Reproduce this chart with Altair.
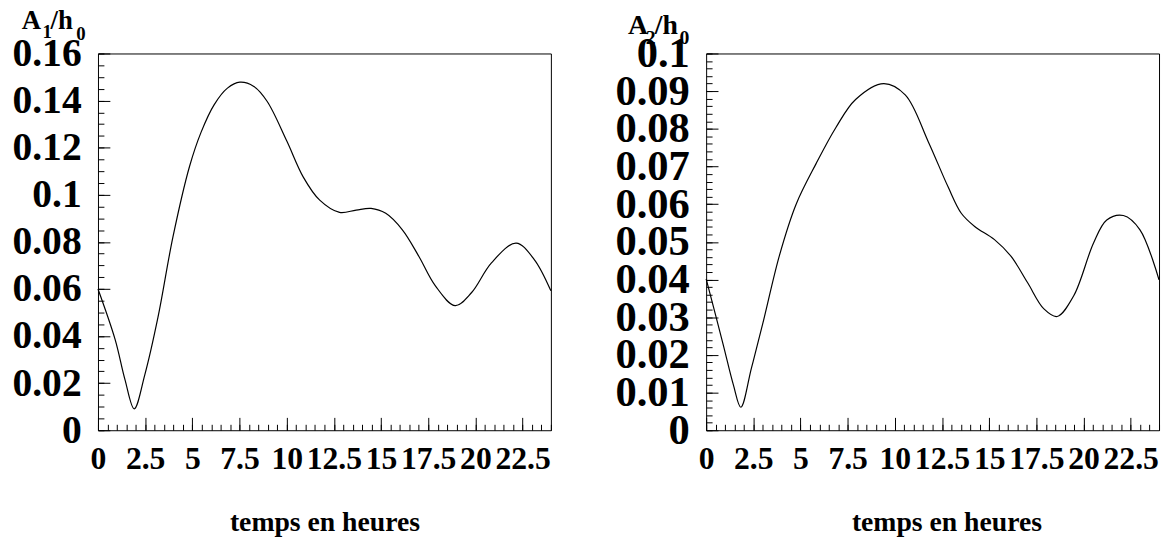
import altair as alt
import pandas as pd

# ---- data ----
t1 = [0.0, 0.91, 1.43, 1.92, 2.48, 3.18, 3.97, 4.85, 5.46, 6.16, 6.86, 7.52, 8.26, 8.96,
      10.0, 10.88, 11.75, 12.8, 13.68, 14.47, 15.25, 16.13, 17.0, 17.88, 18.93, 19.8,
      20.85, 22.16, 23.12, 24.0]
a1 = [0.0600, 0.0385, 0.0215, 0.0091, 0.0235, 0.0480, 0.0820, 0.1120, 0.1265, 0.1383,
      0.1453, 0.1478, 0.1460, 0.1397, 0.1229, 0.1075, 0.0977, 0.0925, 0.0935, 0.0942,
      0.0921, 0.0851, 0.0739, 0.0613, 0.0529, 0.0585, 0.0711, 0.0795, 0.0725, 0.0592]

t2 = [0.0, 0.91, 1.44, 1.84, 2.4, 3.01, 3.89, 4.77, 5.82, 6.87, 7.92, 9.41, 10.55, 11.77,
      12.82, 13.52, 14.23, 15.28, 16.15, 17.03, 17.9, 18.6, 19.48, 20.53, 21.23, 22.11,
      22.99, 24.0]
a2 = [0.0402, 0.0226, 0.0121, 0.0061, 0.0165, 0.0285, 0.0465, 0.0600, 0.0707, 0.0803,
      0.0878, 0.0920, 0.0890, 0.0766, 0.0646, 0.0576, 0.0541, 0.0506, 0.0462, 0.0392,
      0.0322, 0.0302, 0.0357, 0.0497, 0.0558, 0.0570, 0.0532, 0.0399]

x_major = [0, 2.5, 5, 7.5, 10, 12.5, 15, 17.5, 20, 22.5]
x_minor = [i * 0.5 for i in range(49)]
y1_major = [0, 0.02, 0.04, 0.06, 0.08, 0.1, 0.12, 0.14, 0.16]
y1_minor = [round(i * 0.005, 4) for i in range(33)]
y2_major = [0, 0.01, 0.02, 0.03, 0.04, 0.05, 0.06, 0.07, 0.08, 0.09, 0.1]
y2_minor = [round(i * 0.002, 4) for i in range(51)]

x_title = "temps en heures"
ylab1 = [("A", 27, -77, -25), ("1", 19, -56, -16), ("/h", 27, -48, -25), ("0", 19, -22, -14)]
ylab2 = [("A", 28, -79, -20), ("2", 20, -61, -10), ("/h", 28, -52, -20), ("0", 20, -27, -10)]

FONT = "Liberation Serif"
W, H = 458, 381


def panel(t, a, ymax, ymaj, ymin, ylabsize, ylab, title_shift):
    df = pd.DataFrame({"t": t, "a": a})
    xs = alt.Scale(domain=[0, 24], nice=False, zero=False)
    ys = alt.Scale(domain=[0, ymax], nice=False, zero=False)

    xmaj_axis = alt.Axis(orient="bottom", values=x_major, tickSize=13, offset=-13,
                         format=".3~g", labelFontSize=32, labelFont=FONT,
                         labelFontWeight="bold", labelColor="black", labelPadding=14,
                         labelFlush=False, labelOverlap=False, title=x_title,
                         titleFont=FONT, titleFontSize=28, titleFontWeight="bold",
                         titleColor="black", titlePadding=34, titleX=W / 2 + title_shift,
                         domain=False, grid=False, tickColor="black")
    ymaj_axis = alt.Axis(orient="left", values=ymaj, tickSize=12, offset=-12,
                         format=".3~g", labelFontSize=ylabsize, labelFont=FONT,
                         labelFontWeight="bold", labelColor="black", labelPadding=17,
                         labelFlush=False, labelOverlap=False, labelBaseline="middle",
                         title=None, domain=False, grid=False, tickColor="black")
    xmin_axis = alt.Axis(orient="bottom", values=x_minor, tickSize=6, offset=-6,
                         labels=False, title=None, domain=False, grid=False,
                         tickColor="black")
    ymin_axis = alt.Axis(orient="left", values=ymin, tickSize=6, offset=-6, labels=False,
                         title=None, domain=False, grid=False, tickColor="black")

    base = alt.Chart(df)
    line = base.mark_line(color="black", strokeWidth=1.2, interpolate="catmull-rom").encode(
        x=alt.X("t:Q", scale=xs, axis=xmaj_axis),
        y=alt.Y("a:Q", scale=ys, axis=ymaj_axis),
    )
    minor = base.mark_line(opacity=0).encode(
        x=alt.X("t:Q", scale=xs, axis=xmin_axis),
        y=alt.Y("a:Q", scale=ys, axis=ymin_axis),
    )
    layers = [line, minor]
    for txt, size, dx, dy in ylab:
        layers.append(
            alt.Chart(pd.DataFrame({"s": [txt]})).mark_text(
                font=FONT, fontWeight="bold", fontSize=size, color="black",
                align="left", baseline="alphabetic"
            ).encode(text="s:N", x=alt.value(dx), y=alt.value(dy))
        )
    return alt.layer(*layers).resolve_axis(x="independent", y="independent").properties(
        width=W, height=H
    )


left = panel(t1, a1, 0.16, y1_major, y1_minor, 40, ylab1, 0)
right = panel(t2, a2, 0.1, y2_major, y2_minor, 43, ylab2, 14)

chart = alt.hconcat(left, right, spacing=61).properties(
    padding={"left": 3, "top": -5, "right": 0, "bottom": 0}, background="white"
).configure_view(stroke="black", strokeWidth=1)

chart.save("out.html", embed_options={"renderer": "svg", "actions": False})
